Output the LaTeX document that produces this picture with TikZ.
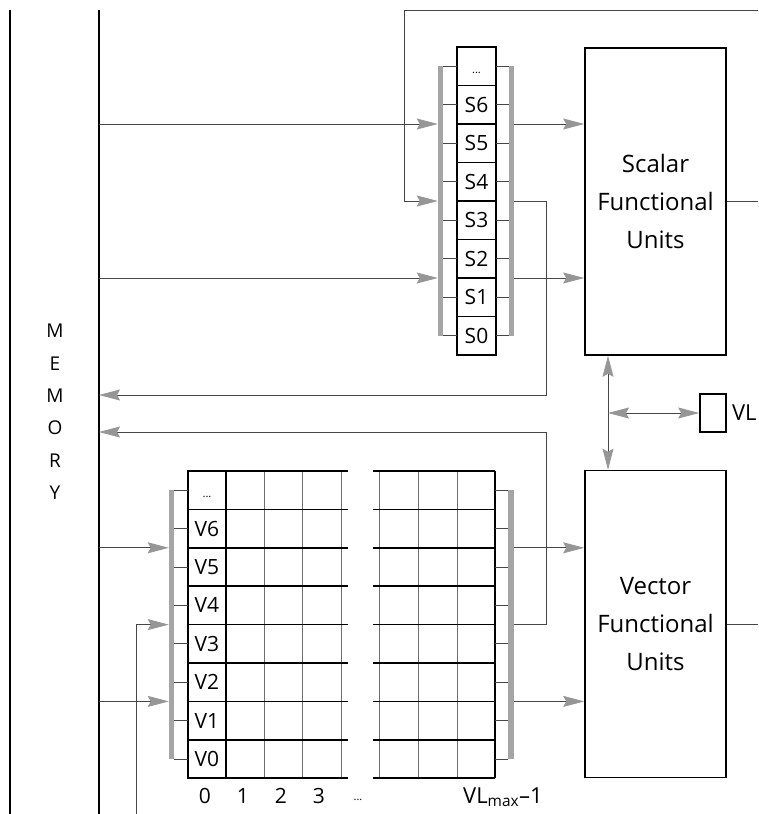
\documentclass[tikz,border=0pt]{standalone}
\usepackage{fontspec}
\setmainfont{Open Sans}
\usetikzlibrary{arrows.meta,positioning}
\definecolor{wiregray}{RGB}{70,70,70}
\definecolor{barfill}{RGB}{165,165,165}
\definecolor{tipfill}{RGB}{150,150,150}
\definecolor{gridgray}{RGB}{110,110,110}
\newcommand{\regdots}{{\fontsize{11}{12}\selectfont\rule{0pt}{14pt}...}}
\tikzset{
    lab/.style={
        font=\fontsize{21}{24}\selectfont
    },
    gtip/.tip={Stealth[length=21pt,width=11pt,inset=3pt,color=tipfill]}
}

\begin{document}
\begin{tikzpicture}[x=1pt,y=-1pt, line cap=butt, line join=miter]

\tikzset{
  wire/.style={draw=wiregray, line width=0.8pt},
  feed/.style={wire, -gtip},
  both/.style={wire, gtip-gtip},
  bus/.style={draw=black, line width=1.6pt},
  grid/.style={draw=gridgray, line width=0.9pt},
  cell/.style={draw=black, line width=1.6pt, minimum width=39pt, minimum height=38.5pt, inner sep=0pt, outer sep=0pt, lab},
  bar/.style={fill=barfill, minimum width=5.5pt, inner sep=0pt, outer sep=0pt},
  fu/.style={draw=black, line width=1.6pt, minimum width=141pt, minimum height=307pt, align=center, font=\fontsize{24}{38}\selectfont},
  memlab/.style={align=center, font=\fontsize{19}{32.4}\selectfont},
}

\useasboundingbox (0,0) rectangle (758,814);

% memory
\draw[bus] (10,10) -- (10,814);
\draw[bus] (99,10) -- (99,814);
\coordinate (memR) at (99,10);
\node[memlab] (mem) at (55,412) {M\\E\\M\\O\\R\\Y};

% scalar registers
\foreach \t [count=\i from 0] in {\regdots,S6,S5,S4,S3,S2,S1,S0}
  \node[cell] (s\i) at (476.5,66.25+38.5*\i) {\t};
\node[bar, minimum height=269.5pt] (sbarL) at (440.5,201) {};
\node[bar, minimum height=269.5pt] (sbarR) at (511.5,201) {};
\foreach \i in {0,...,7} {
  \draw[wire] (sbarL.east |- s\i) -- (s\i.west);
  \draw[wire] (s\i.east) -- (sbarR.west |- s\i);
}

% vector registers
\foreach \x in {226,264,302,341,379,418,457}
  \draw[grid] (\x,471) -- (\x,778);
\foreach \t [count=\i from 0] in {\regdots,V6,V5,V4,V3,V2,V1,V0}
  \node[cell, minimum width=38pt, minimum height=38.4pt] (v\i) at (207,490.2+38.4*\i) {\t};
\foreach \i in {0,...,7}
  \draw[bus] (v\i.north east) -- ++(122,0) ++(25,0) -- ++(122,0);
\draw[bus] (v7.south east) -- ++(122,0) ++(25,0) -- ++(122,0);
\draw[bus] (495,471) -- (495,778);
\node[bar, minimum height=269pt] (vbarL) at (171.5,624.6) {};
\node[bar, minimum height=269pt] (vbarR) at (511,624.6) {};
\foreach \i in {0,...,7} {
  \draw[wire] (vbarL.east |- v\i) -- (v\i.west);
  \draw[wire] (vbarR.west |- v\i) -- ++(-13,0);
}

% functional units
\node[fu] (sfu) at (655.5,201.5) {Scalar\\Functional\\Units};
\node[fu] (vfu) at (655.5,624) {Vector\\Functional\\Units};

% vector length register
\node[draw, line width=1.6pt, minimum width=26pt, minimum height=38.5pt, inner sep=0pt] (vl) at (713,413) {};
\node[font=\fontsize{22}{26}\selectfont, inner sep=0pt, right=5pt of vl] (vltxt) {VL};
\coordinate (link) at (608,413);
\draw[both] (sfu.south -| link) -- (vfu.north -| link);
\draw[both] (link) -- (vl.west);

% loads from memory
\draw[feed] (memR |- s1.south) -- (sbarL.west |- s1.south);
\draw[feed] (memR |- s5.south) -- (sbarL.west |- s5.south);
\draw[feed] (memR |- v1.south) -- (vbarL.west |- v1.south);
\draw[feed] (memR |- v5.south) -- (vbarL.west |- v5.south);

% registers to functional units
\draw[feed] (sbarR.east |- s1.south) -- (sfu.west |- s1.south);
\draw[feed] (sbarR.east |- s5.south) -- (sfu.west |- s5.south);
\draw[feed] (vbarR.east |- v1.south) -- (vfu.west |- v1.south);
\draw[feed] (vbarR.east |- v5.south) -- (vfu.west |- v5.south);

% stores to memory
\coordinate (sstore) at (546,395);
\coordinate (vstore) at (546,432);
\draw[feed] (sbarR.east |- s3.south) -| (sstore) -- (memR |- sstore);
\draw[feed] (vbarR.east |- v3.south) -| (vstore) -- (memR |- vstore);

% results coming back
\coordinate (edgeT) at (758,10);
\coordinate (sloop) at (404,201);
\coordinate (edgeB) at (136,814);
\draw[feed] (edgeT) -| (sloop) -- (sbarL.west |- s3.south);
\draw[feed] (edgeB) |- (vbarL.west |- v3.south);
\draw[wire] (sfu.east) -- (sfu.east -| edgeT);
\draw[wire] (vfu.east) -- (vfu.east -| edgeT);

% column indices
\foreach \n [count=\i from 0] in {0,1,2,3}
  \node[lab] (c\n) at (205+38*\i,796) {\n};
\node[font=\fontsize{11}{12}\selectfont] (cdots) at (358,800) {...};
\node[anchor=base west, inner sep=0pt, font=\fontsize{22}{26}\selectfont] (cmax) at (463,803) {VL\textsubscript{max}–1};

\end{tikzpicture}
\end{document}
